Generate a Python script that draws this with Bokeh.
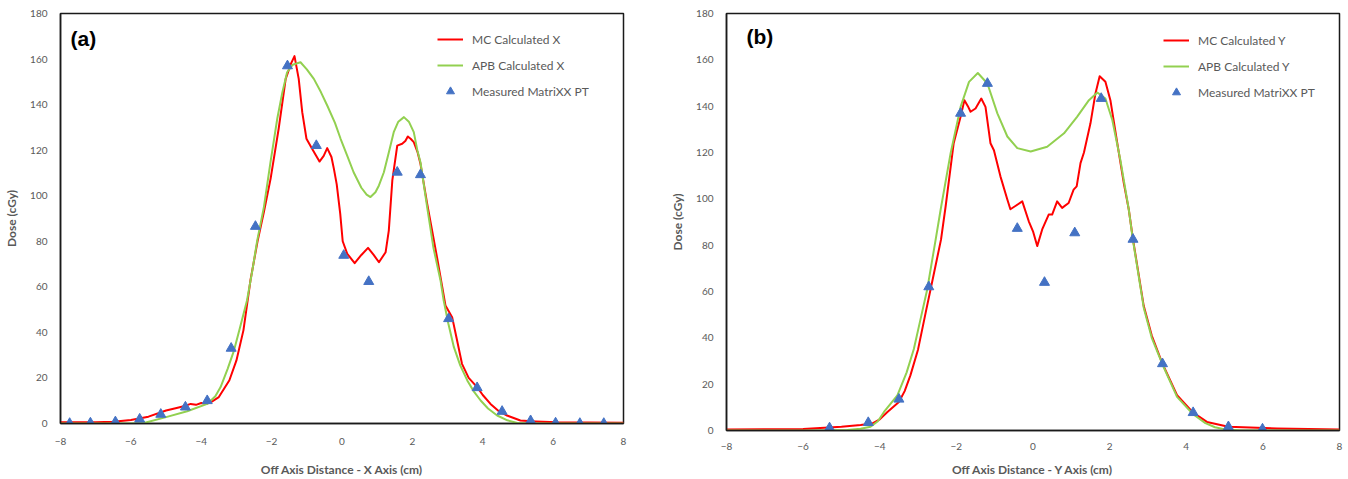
from bokeh.plotting import figure
from bokeh.models import FixedTicker, Label, Legend, LegendItem, Range1d
from bokeh.embed import file_html
from bokeh.resources import INLINE

# ---------------- data: panel (a) X axis ----------------
mc_x_pos = [-8.0, -7.0, -6.5, -6.0, -5.5, -5.0, -4.7, -4.5, -4.3, -4.15, -4.0, -3.85, -3.7, -3.5,
            -3.2, -3.0, -2.8, -2.6, -2.4, -2.22, -2.03, -1.8, -1.6, -1.45, -1.35, -1.23, -1.13,
            -1.01, -0.85, -0.64, -0.52, -0.42, -0.3, -0.23, -0.15, -0.05, 0.02, 0.15, 0.36, 0.55,
            0.74, 0.9, 1.05, 1.24, 1.33, 1.43, 1.57, 1.71, 1.8, 1.87, 1.95, 2.04, 2.15, 2.23, 2.42,
            2.7, 2.85, 2.94, 3.13, 3.25, 3.41, 3.6, 3.84, 4.0, 4.22, 4.45, 4.69, 5.07, 5.5, 6.11,
            7.0, 8.0]
mc_x_dose = [0.5, 0.5, 0.8, 1.5, 3.0, 5.7, 6.8, 7.6, 8.6, 8.2, 9.0, 8.6, 9.6, 11.6,
             19.0, 27.7, 41.0, 63.0, 80.0, 92.8, 107.4, 129.4, 151.3, 158.0, 161.3, 151.3, 136.7,
             125.0, 120.6, 115.0, 117.5, 120.9, 117.0, 111.8, 105.0, 92.0, 80.0, 74.5, 70.4, 74.0,
             77.1, 74.0, 70.8, 75.2, 84.7, 106.7, 122.0, 122.8, 124.0, 126.0, 125.0, 123.5, 119.0,
             114.0, 96.5, 73.0, 59.8, 51.8, 46.7, 38.0, 26.2, 20.0, 16.0, 12.5, 8.6, 5.5, 3.5, 1.3,
             0.9, 0.5, 0.4, 0.3]

apb_x_pos = [-8.0, -6.0, -5.63, -5.0, -4.4, -3.83, -3.6, -3.45, -3.25, -3.07, -2.9, -2.7, -2.55,
             -2.41, -2.22, -2.03, -1.84, -1.7, -1.56, -1.4, -1.18, -1.0, -0.8, -0.6, -0.42, -0.2,
             -0.04, 0.15, 0.33, 0.55, 0.7, 0.81, 0.95, 1.05, 1.19, 1.33, 1.47, 1.6, 1.76, 1.9, 2.04,
             2.14, 2.23, 2.42, 2.6, 2.8, 2.89, 3.02, 3.18, 3.36, 3.56, 3.75, 3.94, 4.15, 4.41, 4.7,
             4.98, 5.5, 8.0]
apb_x_dose = [0.0, 0.0, 0.2, 2.8, 5.4, 8.6, 12.0, 16.0, 24.0, 32.0, 42.0, 54.0, 67.0,
              80.3, 95.0, 115.0, 133.8, 145.0, 154.2, 157.5, 158.6, 155.5, 151.3, 145.5, 139.6, 132.0,
              125.0, 117.5, 110.3, 103.5, 100.5, 99.4, 101.5, 104.5, 110.3, 119.0, 127.9, 132.5, 134.5,
              132.5, 127.9, 120.0, 114.7, 95.0, 77.0, 62.8, 54.0, 44.0, 33.5, 25.5, 18.9, 14.0, 10.1,
              6.6, 3.5, 1.4, 0.2, 0.0, 0.0]

meas_x_pos = [-7.74, -7.15, -6.44, -5.75, -5.15, -4.45, -3.83, -3.15, -2.46, -1.55, -0.73, 0.05,
              0.76, 1.57, 2.23, 3.03, 3.84, 4.55, 5.36, 6.07, 6.76, 7.44]
meas_x_dose = [0.0, 0.2, 0.7, 1.9, 4.0, 7.2, 10.0, 33.0, 86.5, 157.0, 122.0, 73.8,
               62.3, 110.3, 109.2, 46.0, 15.7, 5.3, 1.2, 0.2, 0.0, 0.0]

# ---------------- data: panel (b) Y axis ----------------
mc_y_pos = [-8.0, -7.0, -6.0, -5.0, -4.5, -4.2, -4.0, -3.8, -3.5, -3.35, -3.2, -3.0, -2.8, -2.6,
            -2.4, -2.28, -2.07, -1.89, -1.79, -1.7, -1.63, -1.5, -1.35, -1.24, -1.11, -1.02, -0.85,
            -0.67, -0.59, -0.45, -0.28, -0.11, 0.0, 0.11, 0.24, 0.41, 0.5, 0.63, 0.76, 0.93, 1.06,
            1.14, 1.24, 1.33, 1.5, 1.63, 1.74, 1.89, 2.02, 2.2, 2.37, 2.5, 2.61, 2.89, 3.1, 3.38,
            3.76, 4.18, 4.54, 5.1, 6.37, 8.0]
mc_y_dose = [0.4, 0.5, 0.7, 1.6, 2.4, 3.0, 4.8, 8.0, 12.3, 17.0, 23.8, 35.0, 51.0, 66.7,
             82.5, 96.8, 124.0, 135.4, 142.6, 140.0, 137.6, 139.0, 143.3, 139.7, 124.0, 121.0, 109.7,
             99.7, 95.5, 97.0, 98.9, 90.3, 86.0, 79.6, 86.8, 93.2, 93.2, 98.9, 96.1, 98.2, 104.0,
             105.4, 115.4, 120.0, 132.6, 145.5, 152.9, 150.5, 142.6, 124.0, 106.8, 95.4, 82.5, 53.8,
             41.0, 28.8, 15.2, 7.7, 3.7, 1.6, 0.9, 0.4]

apb_y_pos = [-8.0, -5.5, -4.85, -4.5, -4.24, -4.05, -3.89, -3.54, -3.3, -3.11, -2.95, -2.76, -2.54,
             -2.41, -2.15, -1.89, -1.67, -1.44, -1.19, -0.93, -0.67, -0.41, -0.06, 0.37, 0.81, 1.15,
             1.46, 1.68, 1.89, 2.07, 2.28, 2.5, 2.61, 2.89, 3.1, 3.38, 3.76, 4.18, 4.5, 4.75, 4.98,
             5.4, 8.0]
apb_y_dose = [0.0, 0.0, 0.2, 0.8, 1.6, 4.0, 8.0, 15.2, 25.0, 35.2, 47.0, 61.0, 82.5,
              95.4, 119.7, 139.7, 150.5, 154.3, 149.8, 136.9, 126.9, 121.9, 120.4, 122.5, 128.3, 135.4,
              142.6, 145.9, 143.3, 134.0, 116.8, 95.4, 82.0, 53.0, 40.0, 28.5, 14.5, 7.0, 3.2, 1.4, 0.6,
              0.0, 0.0]

meas_y_pos = [-5.31, -4.3, -3.5, -2.72, -1.89, -1.19, -0.41, 0.3, 1.09, 1.78, 2.61, 3.38, 4.18,
              5.1, 5.99]
meas_y_dose = [1.1, 3.4, 13.5, 62.0, 136.9, 149.8, 87.2, 63.9, 85.3, 143.3, 82.5, 28.8, 7.7,
               1.6, 0.6]

x_ticks = [-8, -6, -4, -2, 0, 2, 4, 6, 8]
y_ticks = [0, 20, 40, 60, 80, 100, 120, 140, 160, 180]

GRAY = "#595959"
RED = "#FF0000"
GREEN = "#92D050"
BLUE = "#4472C4"


def make_panel(width, border_left, border_right, border_bottom, mc, apb, meas, names,
               xlabel, tag, tag_pos, legend_pos, label_standoff, title_standoff):
    p = figure(width=width, height=479, x_range=Range1d(-8, 8), y_range=Range1d(0, 180),
               output_backend="svg", toolbar_location=None,
               min_border_left=border_left, min_border_right=border_right,
               min_border_top=13, min_border_bottom=border_bottom)
    p.xgrid.visible = False
    p.ygrid.visible = False
    p.background_fill_color = "white"
    p.border_fill_color = "white"
    p.outline_line_color = "#1a1a1a"
    p.outline_line_width = 1.5

    r1 = p.line(mc[0], mc[1], line_color=RED, line_width=2, line_join="round")
    r2 = p.line(apb[0], apb[1], line_color=GREEN, line_width=2, line_join="round")
    r3 = p.scatter(meas[0], meas[1], marker="triangle", size=10,
                   fill_color=BLUE, line_color=BLUE)

    for ax in (p.xaxis, p.yaxis):
        ax.major_tick_line_color = None
        ax.minor_tick_line_color = None
        ax.axis_line_color = "#1a1a1a"
        ax.axis_line_width = 1.5
        ax.major_label_text_font = "Lato"
        ax.major_label_text_font_size = "10px"
        ax.major_label_text_color = GRAY
        ax.axis_label_text_font = "Lato"
        ax.axis_label_text_font_size = "12px"
        ax.axis_label_text_font_style = "bold"
        ax.axis_label_text_color = GRAY
    p.xaxis.ticker = FixedTicker(ticks=x_ticks)
    p.yaxis.ticker = FixedTicker(ticks=y_ticks)
    p.xaxis.axis_label = xlabel
    p.yaxis.axis_label = "Dose (cGy)"
    p.xaxis.major_label_standoff = label_standoff
    p.xaxis.axis_label_standoff = title_standoff
    p.yaxis.major_label_standoff = 7
    p.yaxis.axis_label_standoff = 8

    legend = Legend(items=[LegendItem(label=names[0], renderers=[r1]),
                           LegendItem(label=names[1], renderers=[r2]),
                           LegendItem(label=names[2], renderers=[r3])],
                    location=legend_pos, padding=0, margin=0, spacing=6,
                    glyph_width=26, glyph_height=20, label_height=20, label_standoff=9,
                    label_text_font="Lato", label_text_font_size="12px",
                    label_text_color=GRAY, background_fill_alpha=0,
                    border_line_color=None)
    p.add_layout(legend)

    p.add_layout(Label(x=tag_pos[0], y=tag_pos[1], x_units="screen", y_units="screen",
                       text=tag, text_font="Liberation Sans", text_font_size="21px",
                       text_font_style="bold", text_color="black",
                       text_align="left", text_baseline="middle"))
    return p


pa = make_panel(660, 60, 37, 56, (mc_x_pos, mc_x_dose), (apb_x_pos, apb_x_dose),
                (meas_x_pos, meas_x_dose),
                ["MC Calculated X", "APB Calculated X", "Measured MatriXX PT"],
                "Off Axis Distance - X Axis (cm)", "(a)", (10, 385), (377, 322), 8, 14)
pb = make_panel(688, 66, 9, 47, (mc_y_pos, mc_y_dose), (apb_y_pos, apb_y_dose),
                (meas_y_pos, meas_y_dose),
                ["MC Calculated Y", "APB Calculated Y", "Measured MatriXX PT"],
                "Off Axis Distance - Y Axis (cm)", "(b)", (20, 394), (437, 328), 6, 9)

# the two panels sit side by side, each with its own independent frame
SIDE_BY_SIDE = """{% block postamble %}
<style>body { display: flex; flex-direction: row; align-items: flex-start; }</style>
{% endblock %}"""

open("out.html", "w").write(file_html([pa, pb], INLINE, template=SIDE_BY_SIDE))
